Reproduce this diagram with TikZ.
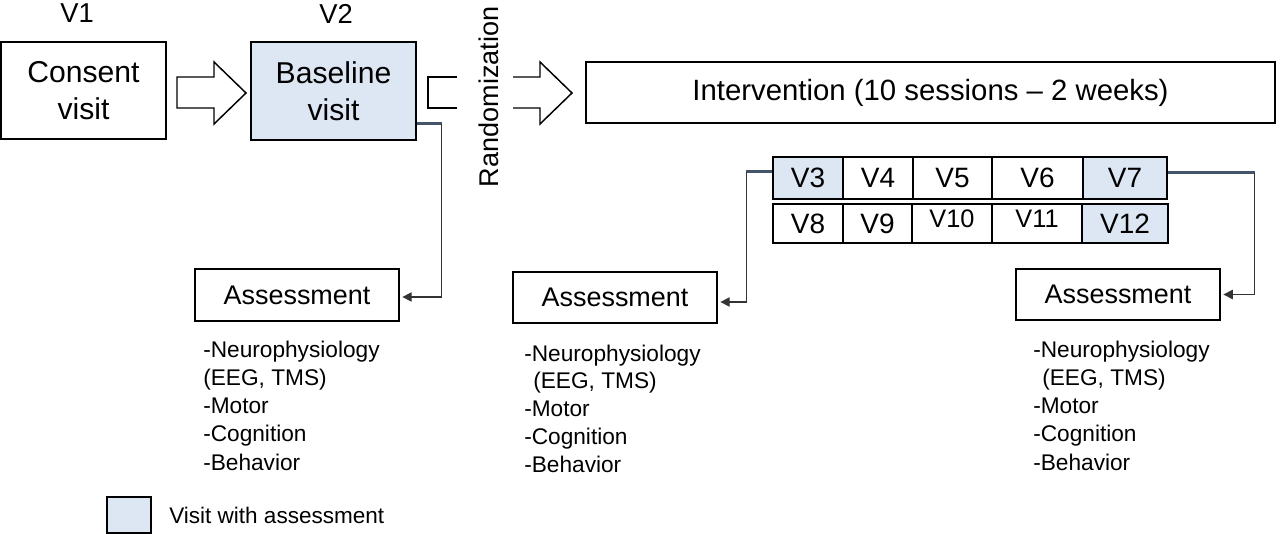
\documentclass[tikz,border=0pt]{standalone}
\usepackage{fontspec}
\setmainfont{Liberation Sans}
\usetikzlibrary{arrows.meta,calc}
\definecolor{vfill}{HTML}{DDE6F3}
\definecolor{lnk}{HTML}{44546A}
\definecolor{thinc}{HTML}{333333}
\newcommand{\fsz}[2]{\fontsize{#1}{#2}\selectfont}
\begin{document}
\begin{tikzpicture}[x=0.75pt,y=-0.75pt,
  box/.style={draw=black,line width=1.1pt,inner sep=0pt,align=center},
  cell/.style={draw=black,line width=1.1pt,inner sep=0pt,font=\fsz{21}{24}},
  filled/.style={fill=vfill},
  thk/.style={draw=lnk,line width=2.25pt},
  thn/.style={draw=thinc,line width=1pt,-{Triangle[length=7pt,width=7pt]},shorten >=2pt},
  blockarrow/.style={draw=black,line width=1.1pt,line join=miter},
  lst/.style={anchor=base west,inner sep=0pt,font=\fsz{17}{20}},
  vlab/.style={inner sep=0pt,font=\fsz{20.5}{22}},
]
\useasboundingbox (0,0) rectangle (1280,534);

% top row
\node[vlab] (v1) at (77,13.5) {V1};
\node[vlab] (v2) at (336,13.5) {V2};
\node[box,minimum width=165*0.75pt,minimum height=97*0.75pt,font=\fsz{22.6}{27.75}] (consent) at (83.5,90.5) {Consent\\visit};
\node[box,filled,minimum width=165*0.75pt,minimum height=98*0.75pt,font=\fsz{22.6}{27.75}] (base) at (333.5,91) {Baseline\\visit};
\draw[blockarrow] (177,77) -- (214,77) -- (214,62) -- (246,93) -- (214,124) -- (214,108) -- (177,108) -- cycle;
\draw[blockarrow] (457,77) -- (428,77) -- (428,108) -- (457,108);
\node[rotate=90,inner sep=0pt,font=\fsz{20.3}{22}] (rand) at (489,97) {Randomization};
\draw[blockarrow] (513,77) -- (540,77) -- (540,62) -- (572,93) -- (540,124) -- (540,108) -- (513,108);
\node[box,minimum width=689*0.75pt,minimum height=61*0.75pt,font=\fsz{22}{26}] (interv) at (930.5,92.5) {Intervention (10 sessions – 2 weeks)};

% visit cells
\node[cell,filled,minimum width=70*0.75pt,minimum height=42*0.75pt] (c3) at (808,178) {V3};
\node[cell,minimum width=70*0.75pt,minimum height=42*0.75pt] (c4) at (878,178) {V4};
\node[cell,minimum width=79*0.75pt,minimum height=42*0.75pt] (c5) at (952.5,178) {V5};
\node[cell,minimum width=91*0.75pt,minimum height=42*0.75pt] (c6) at (1037.5,178) {V6};
\node[cell,filled,minimum width=84*0.75pt,minimum height=42*0.75pt] (c7) at (1125,178) {V7};
\node[cell,minimum width=70*0.75pt,minimum height=39*0.75pt] (c8) at (808,223.5) {V8};
\node[cell,minimum width=69*0.75pt,minimum height=39*0.75pt] (c9) at (877.5,223.5) {V9};
\node[cell,minimum width=80*0.75pt,minimum height=39*0.75pt,font=\fsz{19}{22}] (c10) at (952,223.5) {\raisebox{7pt}{V10}};
\node[cell,minimum width=90*0.75pt,minimum height=39*0.75pt,font=\fsz{19}{22}] (c11) at (1037,223.5) {\raisebox{7pt}{V11}};
\node[cell,filled,minimum width=86*0.75pt,minimum height=39*0.75pt] (c12) at (1125,223.5) {V12};

% assessment boxes
\node[box,minimum width=204*0.75pt,minimum height=52*0.75pt,font=\fsz{20.2}{22}] (ass1) at (297,295) {Assessment};
\node[box,minimum width=204*0.75pt,minimum height=51*0.75pt,font=\fsz{20.2}{22}] (ass2) at (615,297.5) {Assessment};
\node[box,minimum width=204*0.75pt,minimum height=51*0.75pt,font=\fsz{20.2}{22}] (ass3) at (1118,294.5) {Assessment};

% connectors
\draw[thk] ([yshift=17*0.75pt]base.south east) -- ++(25,0) coordinate (k1);
\draw[thn] (k1) |- ([yshift=-2*0.75pt]ass1.east);
\draw[thk] ([yshift=6*0.75pt]c3.west) -- ++(-26,0) coordinate (k2);
\draw[thn] (k2) |- ([yshift=-4.5*0.75pt]ass2.east);
\draw[thk] ([yshift=5*0.75pt]c7.east) -- ++(87,0) coordinate (k3);
\draw[thn] (k3) |- (ass3.east);

% lists
\node[lst] (a1) at (203,357) {-Neurophysiology};
\node[lst] (a2) at (203,385.3) {(EEG, TMS)};
\node[lst] (a3) at (203,413.6) {-Motor};
\node[lst] (a4) at (203,441.9) {-Cognition};
\node[lst] (a5) at (203,470.2) {-Behavior};

\node[lst] (b1) at (524,361) {-Neurophysiology};
\node[lst] (b2) at (533,388.8) {(EEG, TMS)};
\node[lst] (b3) at (524,416.6) {-Motor};
\node[lst] (b4) at (524,444.4) {-Cognition};
\node[lst] (b5) at (524,472.2) {-Behavior};

\node[lst] (d1) at (1033,357) {-Neurophysiology};
\node[lst] (d2) at (1042,385.3) {(EEG, TMS)};
\node[lst] (d3) at (1033,413.6) {-Motor};
\node[lst] (d4) at (1033,441.9) {-Cognition};
\node[lst] (d5) at (1033,470.2) {-Behavior};

% legend
\node[box,filled,minimum width=44*0.75pt,minimum height=36*0.75pt] (leg) at (129,515) {};
\node[anchor=west,inner sep=0pt,font=\fsz{16.9}{20}] (legt) at (169,515) {Visit with assessment};
\end{tikzpicture}
\end{document}
